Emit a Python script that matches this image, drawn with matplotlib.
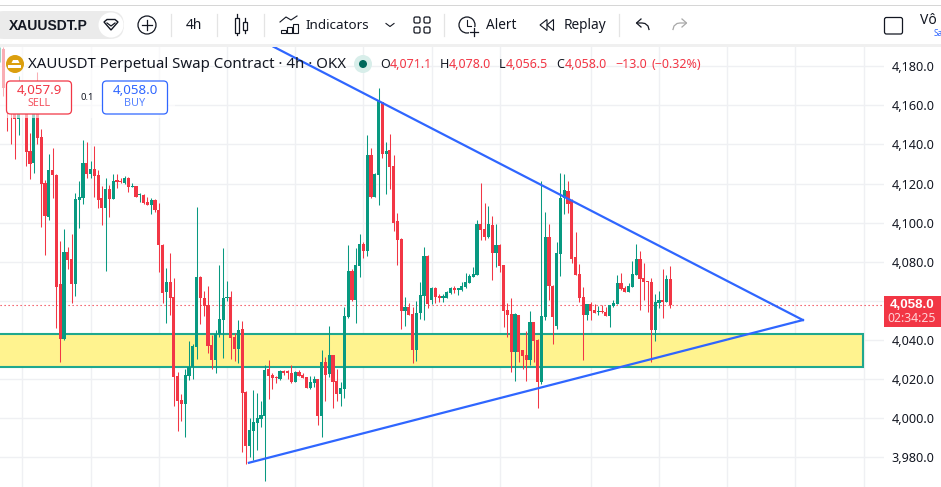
import matplotlib
matplotlib.use('Agg')
import matplotlib.pyplot as plt
from matplotlib.patches import Rectangle, Circle, FancyBboxPatch, Polygon

# XAUUSDT.P 4h candles
opens = [4183, 4189, 4170, 4162, 4156, 4153, 4166, 4160, 4136.7, 4130.4,
         4156, 4143.8, 4120.1, 4103, 4127, 4124.4, 4068.6, 4040.5, 4085, 4081.4,
         4068.6, 4111.6, 4112.8, 4130.4, 4124.7, 4127.5, 4124.2, 4112.6, 4107.7, 4117.2,
         4112.1, 4121.3, 4121, 4120.1, 4122.9, 4118.4, 4118.6, 4114, 4114.2, 4110.4,
         4109.2, 4111.6, 4106.5, 4088.8, 4064.7, 4069.7, 4062, 4021.6, 4009.3, 4007.4,
         4021.8, 4026.4, 4036.6, 4072.4, 4061.5, 4058, 4037.3, 4029.8, 4043, 4050.2,
         4061.5, 4062, 4041.5, 4035.4, 4045.5, 4013.4, 3985.8, 3993.5, 3997.7, 3999.8,
         4001.3, 4025.2, 4021.9, 4020.9, 4020, 4023.6, 4023.6, 4023.1, 4018.7, 4023.6,
         4022.1, 4020.9, 4015.3, 4018, 4020, 4001.3, 4028.7, 4022.6, 4032.3, 4019,
         4012.4, 4014.9, 4051.9, 4075.3, 4060.5, 4078, 4089.1, 4085.5, 4134.6, 4113.3,
         4124.6, 4161.7, 4135.3, 4137.2, 4129, 4100.9, 4091.7, 4054.8, 4057, 4053.3,
         4034.9, 4053.6, 4062.5, 4083, 4060.5, 4066.4, 4062, 4061.7, 4061.7, 4063.9,
         4066.4, 4065.8, 4065.6, 4067, 4069, 4072.4, 4073.3, 4099.4, 4096.8, 4092.7,
         4098.9, 4084.5, 4088.6, 4078.4, 4055.4, 4053.3, 4033.9, 4052.8, 4034.9, 4032.4,
         4029.8, 4049.2, 4040, 4018.5, 4051.8, 4092.7, 4067.6, 4047.2, 4084, 4112.7,
         4116.2, 4111.6, 4082.5, 4073.8, 4062, 4052.8, 4058.4, 4055.4, 4054.3, 4054.9,
         4054.3, 4052.3, 4057.4, 4058.4, 4069.2, 4066.6, 4064.6, 4067.1, 4073.3, 4081.5,
         4071.7, 4070.2, 4069.7, 4045.1, 4058.9, 4060.5, 4059.5, 4071.1]
highs = [4190, 4190, 4172, 4172, 4165, 4175, 4170, 4162, 4145.7, 4160,
         4177, 4148, 4122, 4135, 4138.4, 4124.7, 4090.6, 4096.8, 4087.6, 4094.2,
         4115, 4121.3, 4142.3, 4141.3, 4131.7, 4139.2, 4127, 4118.8, 4122.7, 4119.3,
         4124.7, 4124.9, 4122.7, 4123.9, 4123.2, 4120.3, 4118.8, 4115.4, 4114.7, 4113.3,
         4112.8, 4112, 4109.9, 4089, 4076.7, 4084.7, 4071.7, 4023.6, 4012.4, 4025.2,
         4039.5, 4038, 4108, 4072.6, 4065, 4067.6, 4042.5, 4045.1, 4078.4, 4086.9,
         4070.2, 4065, 4043.4, 4050.2, 4049.7, 4013.9, 3999.9, 4014.2, 4012.7, 4008.8,
         4027.2, 4029.8, 4023, 4021.8, 4024.6, 4024.5, 4024.6, 4027.2, 4024, 4024.6,
         4023.1, 4021, 4021.6, 4021.6, 4020, 4034.9, 4031.1, 4047.2, 4032.3, 4025.2,
         4018.7, 4057, 4088.6, 4076.3, 4087.2, 4094.2, 4090.1, 4144.9, 4138.2, 4125.6,
         4168.7, 4161.7, 4141.3, 4145.4, 4134.6, 4105, 4092, 4061.8, 4058.7, 4057,
         4060, 4069.5, 4087.4, 4083.5, 4067, 4067, 4063.5, 4063.5, 4065.3, 4067.3,
         4067.8, 4066.2, 4069.9, 4074.1, 4073.8, 4077.5, 4101.4, 4120.3, 4110.1, 4108.6,
         4103.5, 4099.4, 4089.1, 4078.6, 4058.8, 4061.5, 4053.8, 4053, 4034.9, 4044.6,
         4054.9, 4049.2, 4040.5, 4121.4, 4105.5, 4099.4, 4068.2, 4090.2, 4125.4, 4124.8,
         4121.4, 4112, 4095.3, 4078.9, 4067.1, 4058.4, 4059.6, 4058.4, 4057.4, 4057.8,
         4057, 4058, 4060.5, 4073.3, 4074.3, 4067.6, 4069.2, 4080.4, 4089.1, 4085.6,
         4079.4, 4070.3, 4071.7, 4063.6, 4065.1, 4076.3, 4073.3, 4078]
lows = [4182, 4165, 4147, 4140, 4132.6, 4145, 4157, 4129, 4122.4, 4125.3,
        4140.3, 4098, 4083.7, 4101.4, 4112.8, 4046.3, 4028.7, 4040, 4076.3, 4058.9,
        4062.5, 4097.5, 4109.6, 4123, 4122.7, 4113.3, 4107.7, 4099, 4075.5, 4103.1,
        4112, 4117.9, 4120.3, 4120, 4115.7, 4118.2, 4113, 4110.4, 4109.4, 4109,
        4104.6, 4105.7, 4074.6, 4059.1, 4048.9, 4052.8, 4006.4, 3993.4, 3998.7, 3990.6,
        4019.5, 4020, 4030.3, 4048.2, 4052.3, 4033.3, 4025.2, 4023.3, 4041.7, 4031,
        4060, 4030.1, 4029.4, 4028.4, 3982.9, 3976.6, 3980.3, 3978.6, 3983.7, 3995.7,
        3968, 4009.8, 4014.8, 4018.2, 4019.7, 4022.1, 4020, 4018, 4018.5, 4021.6,
        4020.5, 4015.6, 4014.8, 4015.8, 3996.5, 3990.6, 4008.8, 4020.9, 4005.4, 4009,
        4006.2, 4010.3, 4051.5, 4060, 4048.9, 4072.2, 4082.1, 4083.1, 4112.6, 4113,
        4109.2, 4133.1, 4114.7, 4117.2, 4095.9, 4078.4, 4045.6, 4047.2, 4053, 4028.4,
        4029.4, 4050.6, 4050.2, 4056.2, 4058.4, 4059.1, 4059.6, 4059.5, 4061.5, 4063.5,
        4063.9, 4063.2, 4065.3, 4066.4, 4069, 4072.4, 4073.3, 4091.2, 4091.2, 4092.2,
        4070.7, 4077.4, 4075, 4046.7, 4041.7, 4023.7, 4019.1, 4028.8, 4025.2, 4019.1,
        4027.2, 4028.8, 4005.2, 4017.5, 4050.2, 4060.5, 4038, 4045.7, 4072.8, 4104.5,
        4104.8, 4079.2, 4073, 4059.5, 4029.8, 4050.3, 4050.3, 4053.6, 4052.8, 4054,
        4052.3, 4046.7, 4057, 4058.2, 4065.6, 4064.6, 4064.6, 4067.1, 4073.3, 4055.4,
        4060.5, 4054.5, 4028.8, 4039.5, 4056.4, 4051.3, 4059.5, 4056.5]
closes = [4189, 4169, 4160, 4156, 4153, 4157, 4161, 4136.3, 4130, 4158,
          4143.5, 4120, 4103.6, 4127, 4124.4, 4067.3, 4040.5, 4085, 4081, 4068.6,
          4112, 4113, 4130.4, 4124.9, 4127.5, 4123.9, 4111.8, 4107.7, 4117.2, 4112.1,
          4121.3, 4121, 4120.7, 4122.9, 4118.4, 4119, 4113.3, 4114.5, 4109.9, 4109.2,
          4111.6, 4106.5, 4088.8, 4064.2, 4069.7, 4061.5, 4021.2, 4009, 4007.4, 4021.9,
          4026.4, 4036.9, 4072, 4061.5, 4057.4, 4036.9, 4029.8, 4042.9, 4050.6, 4061.5,
          4062, 4041, 4035.4, 4045.1, 4013, 3985.8, 3993.8, 3997.9, 3999.9, 4001.6,
          4024.6, 4021.6, 4020.7, 4020.7, 4024.1, 4023.3, 4023.3, 4018.5, 4023.6, 4021.8,
          4020.7, 4015.6, 4018.5, 4020, 4001.1, 4028.7, 4022.1, 4032.3, 4018.7, 4012.4,
          4015.6, 4052.3, 4075.3, 4060.5, 4078.4, 4089.1, 4085.5, 4134.6, 4113.2, 4124.7,
          4162.4, 4135.3, 4136.7, 4128.5, 4100, 4091.2, 4055, 4057, 4053, 4034.9,
          4053.6, 4063, 4083, 4058.3, 4066.4, 4061.8, 4061.7, 4062, 4064.7, 4066.8,
          4065.8, 4066.1, 4067.6, 4069.7, 4072.8, 4073.8, 4099.4, 4096.3, 4092.7, 4099.4,
          4084.5, 4088.6, 4077.9, 4054.9, 4052.8, 4033.9, 4053.3, 4033.9, 4031.8, 4029.8,
          4049.2, 4039.5, 4018.5, 4052.3, 4092.7, 4067.6, 4051.8, 4084.5, 4112.7, 4116.8,
          4109.6, 4081.5, 4073.3, 4061.5, 4052.8, 4058.4, 4054.9, 4053.8, 4054.9, 4054.3,
          4052.3, 4057.9, 4058.9, 4069.2, 4066.1, 4064.6, 4067.6, 4073.8, 4081.5, 4071.2,
          4069.7, 4069.7, 4045.1, 4059.5, 4060.5, 4059.5, 4071.2, 4058]

price_ticks = [3980, 4000, 4020, 4040, 4060, 4080, 4100, 4120, 4140, 4160, 4180]
time_grid = [6, 24, 42, 60, 78, 96, 114, 132, 156, 174, 192, 210, 228]

upper_trend_x = [72.3, 212]
upper_trend_y = [4190, 4050.2]
lower_trend_x = [65.8, 212]
lower_trend_y = [3977.2, 4050.2]
zone_left, zone_right = -2, 227.9
zone_low, zone_high = 4026.2, 4043.2
last_price = 4058

RED = '#F23645'
GREEN = '#089981'
BLUE = '#2F66FF'
TEAL = '#1FA88E'
YELLOW = '#FFF38F'
GRID = '#EFF0F3'
INK = '#131722'
BOLD = ['Liberation Sans', 'DejaVu Sans']

plt.rcParams['font.family'] = ['Noto Sans', 'DejaVu Sans']

W, H = 941, 487
fig = plt.figure(figsize=(W / 100, H / 100), dpi=100, facecolor='white')

# chart pane spans x 0-884 and y 47-487 in pixels
ax = fig.add_axes([0, 0, 884 / W, 440 / H], zorder=1)
ax.set_xlim(0.1056, 233.4)
ax.set_ylim(3964.8, 4189.87)
for s in ax.spines.values():
    s.set_visible(False)
ax.set_xticks(time_grid)
ax.set_yticks(price_ticks)
ax.set_yticklabels([f'{p:,.1f}' for p in price_ticks])
ax.yaxis.tick_right()
ax.tick_params(axis='x', length=0, labelbottom=False)
ax.tick_params(axis='y', length=0, pad=5.5, labelsize=9.1, labelcolor=INK)
ax.grid(True, color=GRID, linewidth=1.0)
ax.set_axisbelow(True)

# support zone sits under the candles
ax.add_patch(Rectangle((zone_left, zone_low), zone_right - zone_left, zone_high - zone_low,
                       facecolor=YELLOW, edgecolor=TEAL, linewidth=1.5, zorder=2))

ax.axhline(last_price, color=RED, linewidth=0.8, linestyle=(0, (1.1, 2.5)), zorder=2.5)

for i in range(len(opens)):
    color = GREEN if closes[i] >= opens[i] else RED
    ax.vlines(i, lows[i], highs[i], color=color, linewidth=0.75, zorder=3)
    ax.bar(i, max(abs(closes[i] - opens[i]), 0.6), bottom=min(opens[i], closes[i]),
           width=0.84, color=color, linewidth=0, zorder=3.2)

# overlay in plain pixel coordinates for the terminal chrome
ui = fig.add_axes([0, 0, 1, 1], zorder=2)
ui.set_xlim(0, W)
ui.set_ylim(H, 0)
ui.axis('off')


def label(x, y, s, **kw):
    # matplotlib centres on the line box with descent, nudge down to sit like the original
    kw.setdefault('va', 'center')
    return ui.text(x, y + 1.5, s, **kw)


# legend area fades the candles behind it
ax.add_patch(Rectangle((0, 47), 175, 71, facecolor='white', alpha=0.6, linewidth=0,
                       transform=ui.transData, zorder=4))

ax.plot(upper_trend_x, upper_trend_y, color=BLUE, linewidth=1.6, zorder=5)
ax.plot(lower_trend_x, lower_trend_y, color=BLUE, linewidth=1.6, zorder=5)

# toolbar
ui.add_patch(Rectangle((0, 0), W, 44, facecolor='white', linewidth=0))
ui.add_patch(Rectangle((0, 5), W, 1.2, facecolor='#D6D6D6', linewidth=0))
ui.add_patch(Rectangle((0, 44), W, 3, facecolor='#F0F0F0', linewidth=0))
ui.add_patch(FancyBboxPatch((-10, 11), 134, 28, boxstyle='round,pad=0,rounding_size=14',
                            facecolor='#EBEBEB', linewidth=0))
ui.add_patch(Circle((111, 25), 12.5, facecolor='white', linewidth=0))
ui.add_patch(Polygon([(104, 22), (107, 19.5), (115, 19.5), (118, 22), (111, 30)], closed=True,
                     facecolor='white', edgecolor=INK, linewidth=1))
ui.plot([107, 111, 115], [23, 26, 23], color=INK, linewidth=0.9)
label(9, 24, 'XAUUSDT.P', fontsize=10, fontweight='bold', color=INK, family=BOLD)

ui.add_patch(Circle((147, 25), 9, facecolor='white', edgecolor=INK, linewidth=0.9))
ui.plot([142, 152], [25, 25], color=INK, linewidth=0.9)
ui.plot([147, 147], [20, 30], color=INK, linewidth=0.9)
for sx in [171.5, 217.5, 264.5, 444.5, 619.5]:
    ui.plot([sx, sx], [14, 36], color='#E4E4E4', linewidth=0.9)
label(194, 24, '4h', fontsize=10, color=INK, ha='center')

# candle icon
ui.plot([237.5, 237.5], [14, 35], color=INK, linewidth=0.9, zorder=1)
ui.add_patch(Rectangle((235.5, 17.5), 4, 15, facecolor='white', edgecolor=INK, linewidth=0.9, zorder=2))
ui.plot([245.5, 245.5], [18, 33], color=INK, linewidth=0.9, zorder=1)
ui.add_patch(Rectangle((243.5, 21.5), 4, 8, facecolor='white', edgecolor=INK, linewidth=0.9, zorder=2))

# indicators icon
for bx, top in [(281, 30), (287, 27), (293, 24)]:
    ui.add_patch(Rectangle((bx, top), 5, 33 - top, facecolor='white', edgecolor=INK, linewidth=0.8))
ui.plot([280, 286, 291, 297], [22, 17, 20, 16], color=INK, linewidth=0.8)
label(306, 24, 'Indicators', fontsize=9.7, color=INK)
ui.plot([386, 390, 394], [23.5, 26.5, 23.5], color=INK, linewidth=0.8)
for qx in [414, 424]:
    for qy in [17, 27]:
        ui.add_patch(FancyBboxPatch((qx, qy), 6, 6, boxstyle='round,pad=0,rounding_size=1.5',
                                    facecolor='white', edgecolor=INK, linewidth=0.9))

# alert icon
ui.add_patch(Circle((467, 25), 8, facecolor='white', edgecolor=INK, linewidth=0.9, zorder=1))
ui.add_patch(Rectangle((469, 27), 10, 10, facecolor='white', linewidth=0, zorder=1.5))
ui.plot([467, 467, 471], [20, 26, 26], color=INK, linewidth=0.8, zorder=2)
ui.plot([470, 478], [32, 32], color=INK, linewidth=0.9, zorder=2)
ui.plot([474, 474], [28, 36], color=INK, linewidth=0.9, zorder=2)
label(486, 24, 'Alert', fontsize=9.8, color=INK)

ui.add_patch(Polygon([(540, 25), (547, 19.5), (547, 30.5)], closed=True, facecolor='white',
                     edgecolor=INK, linewidth=0.8))
ui.add_patch(Polygon([(547, 25), (553.5, 19.5), (553.5, 30.5)], closed=True, facecolor='white',
                     edgecolor=INK, linewidth=0.8))
label(564, 24, 'Replay', fontsize=9.8, color=INK)

# undo / redo arrows
ui.plot([649, 648, 645, 642, 637], [29.5, 26, 23.5, 23, 23], color=INK, linewidth=0.9)
ui.plot([641, 636.5, 641], [19, 23, 27], color=INK, linewidth=0.9)
ui.plot([673, 674, 677, 680, 686], [29.5, 26, 23.5, 23, 23], color='#A8A8A8', linewidth=0.9)
ui.plot([682, 686.5, 682], [19, 23, 27], color='#A8A8A8', linewidth=0.9)

ui.add_patch(FancyBboxPatch((884.5, 17.5), 18, 16.5, boxstyle='round,pad=0,rounding_size=2',
                            facecolor='white', edgecolor=INK, linewidth=0.9))
label(920, 19, 'Vô', fontsize=10, color=INK)
label(933.5, 31.5, 'Sa', fontsize=6, color=BLUE)

# legend row
ui.add_patch(Circle((15, 64), 9, facecolor='#DB9F0E', linewidth=0))
ui.add_patch(Polygon([(13, 60), (18, 60), (19.5, 63), (11.5, 63)], closed=True, facecolor='white', linewidth=0))
ui.add_patch(Rectangle((8.5, 65), 13, 2.5, facecolor='white', linewidth=0))
label(28, 63.5, 'XAUUSDT Perpetual Swap Contract · 4h · OKX', fontsize=10.8, color=INK)
ui.add_patch(Circle((363, 64), 9, facecolor='#D8EEEA', linewidth=0))
ui.add_patch(Circle((363, 64), 4, facecolor='#00695C', linewidth=0))
for tx, letter in [(380, 'O'), (440, 'H'), (499, 'L'), (556, 'C')]:
    label(tx, 63.5, letter, fontsize=9, color=INK)
for tx, val in [(390, '4,071.1'), (449, '4,078.0'), (506, '4,056.5'), (565, '4,058.0'),
                (615, '−13.0'), (651.5, '(−0.32%)')]:
    label(tx, 63.5, val, fontsize=9, color=RED)

# sell / buy buttons
ui.add_patch(FancyBboxPatch((6.5, 81), 65, 33, boxstyle='round,pad=0,rounding_size=4',
                            facecolor='white', edgecolor=RED, linewidth=0.9))
label(39, 89.5, '4,057.9', fontsize=9.6, color=RED, ha='center')
label(39, 102.5, 'SELL', fontsize=7.8, color=RED, alpha=0.85, ha='center')
label(87, 95.5, '0.1', fontsize=6.8, color=INK, ha='center')
ui.add_patch(FancyBboxPatch((102.5, 81), 65, 33, boxstyle='round,pad=0,rounding_size=4',
                            facecolor='white', edgecolor=BLUE, linewidth=0.9))
label(135, 89.5, '4,058.0', fontsize=9.6, color=BLUE, ha='center')
label(135, 102.5, 'BUY', fontsize=7.8, color=BLUE, alpha=0.8, ha='center')

# last price tag on the scale
ui.add_patch(Rectangle((884, 296), 57, 31, facecolor=RED, linewidth=0))
label(912, 303, '4,058.0', fontsize=9.6, fontweight='bold', color='white', ha='center', family=BOLD)
label(912, 317, '02:34:25', fontsize=8.8, color='#FFD3D7', ha='center')

fig.savefig('out.png', dpi=100)
